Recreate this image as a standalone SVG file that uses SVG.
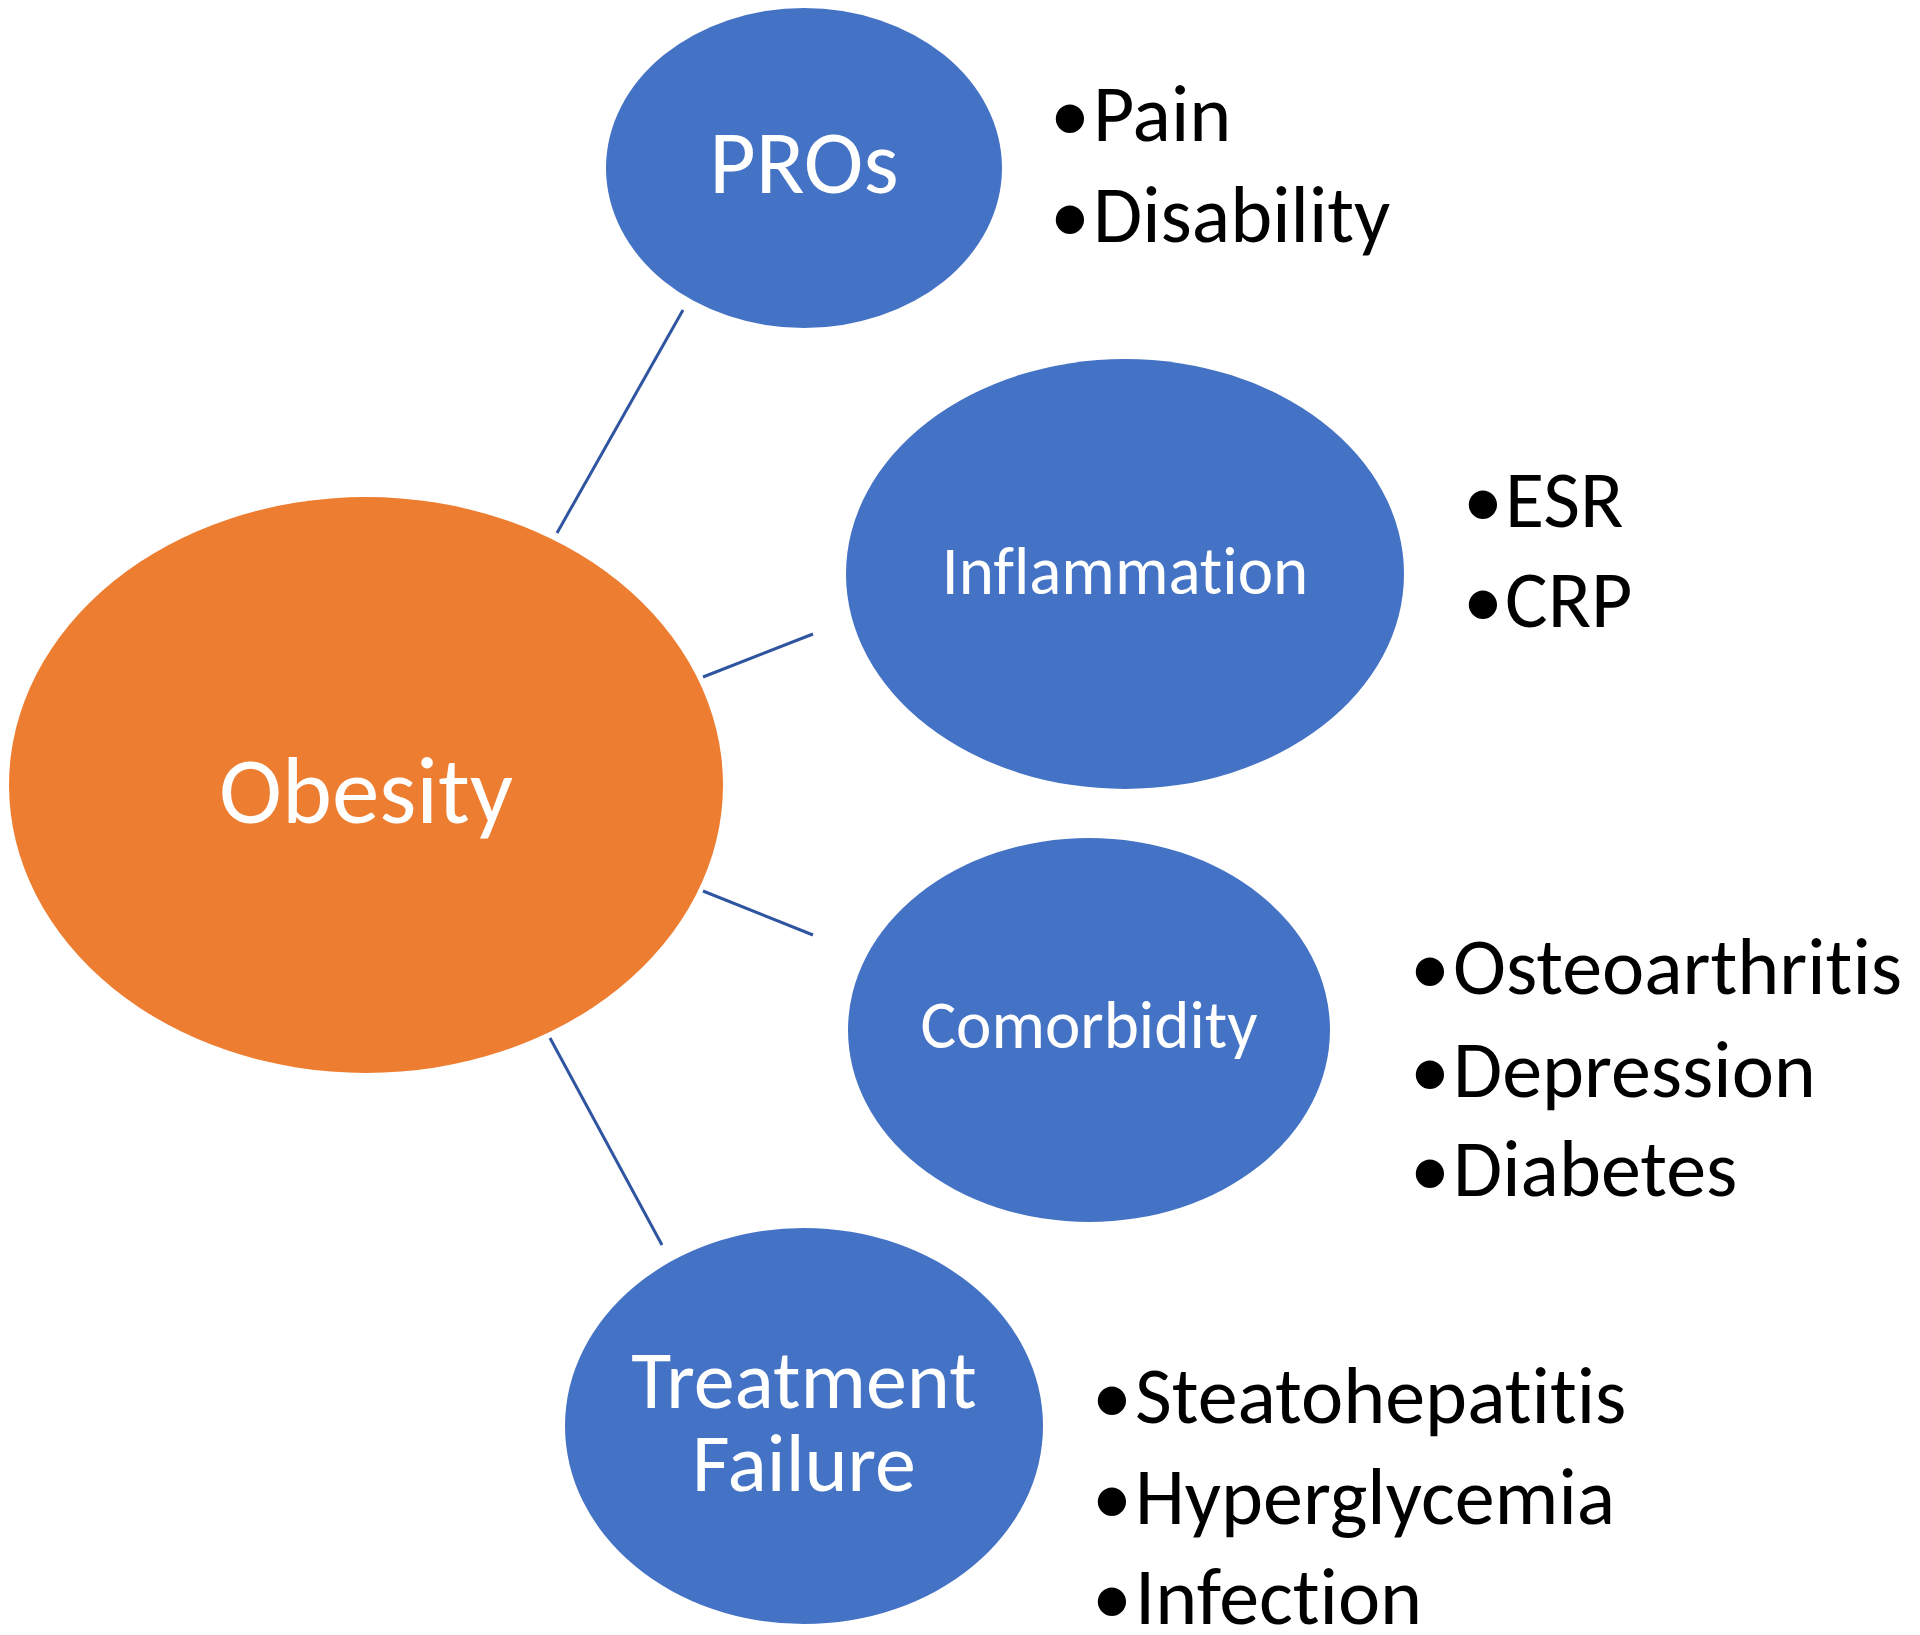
<svg xmlns="http://www.w3.org/2000/svg" width="1920" height="1635" viewBox="0 0 1920 1635">
<style>
.bg{fill:#ffffff}
.center{fill:#ED7D31}
.node{fill:#4472C4}
.lbl{font-family:Calibri,Carlito,Lato,"Liberation Sans",sans-serif;fill:#ffffff;text-anchor:middle;font-variant-ligatures:none}
.item{font-family:Calibri,Carlito,Lato,"Liberation Sans",sans-serif;fill:#000000;font-size:80px;font-variant-ligatures:none}
.conn{stroke:#2F55A0;stroke-width:3;fill:none}
</style>
<rect class="bg" x="0" y="0" width="1920" height="1635"/>
<g id="connectors">
<line class="conn" x1="557" y1="533" x2="683" y2="310"/>
<line class="conn" x1="703" y1="677" x2="813" y2="634"/>
<line class="conn" x1="703" y1="891" x2="813" y2="935"/>
<line class="conn" x1="550" y1="1038" x2="662" y2="1245"/>
</g>
<g id="obesity">
<ellipse class="center" cx="366" cy="785" rx="357" ry="288"/>
<text class="lbl" x="366" y="823" font-size="95">Obesity</text>
</g>
<g id="pros">
<ellipse class="node" cx="804" cy="168" rx="198" ry="160"/>
<text class="lbl" x="804" y="193" font-size="90">PROs</text>
<text class="item" x="1050" y="141">•</text><text class="item" x="1093" y="141">Pain</text>
<text class="item" x="1050" y="242">•</text><text class="item" x="1093" y="242">Disability</text>
</g>
<g id="inflammation">
<ellipse class="node" cx="1125" cy="574" rx="279" ry="215"/>
<text class="lbl" x="1125" y="594" font-size="67">Inflammation</text>
<text class="item" x="1463" y="527">•</text><text class="item" x="1505" y="527">ESR</text>
<text class="item" x="1463" y="627">•</text><text class="item" x="1505" y="627">CRP</text>
</g>
<g id="comorbidity">
<ellipse class="node" cx="1089" cy="1030" rx="241" ry="192"/>
<text class="lbl" x="1089" y="1048" font-size="67">Comorbidity</text>
<text class="item" x="1410" y="994">•</text><text class="item" x="1453" y="994">Osteoarthritis</text>
<text class="item" x="1410" y="1097">•</text><text class="item" x="1453" y="1097">Depression</text>
<text class="item" x="1410" y="1196">•</text><text class="item" x="1453" y="1196">Diabetes</text>
</g>
<g id="treatment-failure">
<ellipse class="node" cx="804" cy="1426" rx="239" ry="198"/>
<text class="lbl" x="804" y="1408" font-size="82">Treatment</text>
<text class="lbl" x="804" y="1491" font-size="82">Failure</text>
<text class="item" x="1092" y="1423">•</text><text class="item" x="1135" y="1423">Steatohepatitis</text>
<text class="item" x="1092" y="1524">•</text><text class="item" x="1135" y="1524">Hyperglycemia</text>
<text class="item" x="1092" y="1624">•</text><text class="item" x="1135" y="1624">Infection</text>
</g>
</svg>
